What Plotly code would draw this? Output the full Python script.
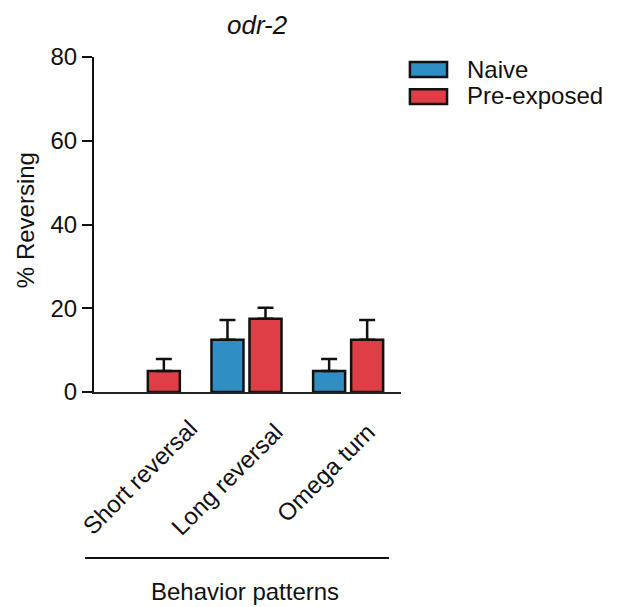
import plotly.graph_objects as go

categories = ["Short reversal", "Long reversal", "Omega turn"]
naive = [None, 12.5, 5]
naive_err = [0, 4.7, 2.9]
pre = [5, 17.5, 12.5]
pre_err = [2.9, 2.6, 4.7]
y_ticks = [0, 20, 40, 60, 80]

FONT = "Arial, Liberation Sans, sans-serif"
BLUE = "#2F8FC4"
RED = "#E03E46"
INK = "#111111"

fig = go.Figure()
for name, vals, errs, col in [("Naive", naive, naive_err, BLUE),
                              ("Pre-exposed", pre, pre_err, RED)]:
    fig.add_trace(go.Bar(
        x=list(range(len(categories))), y=vals, name=name,
        marker=dict(color=col, line=dict(color=INK, width=2.5)),
        error_y=dict(type="data", array=errs, arrayminus=[0]*len(errs),
                     symmetric=False, color=INK, thickness=2.5, width=8),
        showlegend=False,
    ))

fig.update_layout(
    width=622, height=607,
    margin=dict(l=94, r=221, t=57, b=215),
    paper_bgcolor="white", plot_bgcolor="white",
    barmode="group", bargap=0.252, bargroupgap=0.158,
    font=dict(family=FONT, size=24, color=INK),
    xaxis=dict(range=[-0.5, 2.52], showticklabels=False, ticks="",
               showgrid=False, zeroline=False, showline=True,
               linecolor="#222", linewidth=2),
    yaxis=dict(range=[0, 80], tickvals=y_ticks, ticks="outside", ticklen=10,
               tickwidth=2, tickcolor=INK, showgrid=False, zeroline=False,
               showline=True, linecolor=INK, linewidth=2,
               tickfont=dict(size=24, family=FONT, color=INK),
               ticklabelstandoff=0),
)

# title
fig.add_annotation(text="<i>odr-2</i>", xref="paper", yref="paper", x=0.531, y=1.0955,
                   xanchor="center", yanchor="middle", showarrow=False,
                   font=dict(size=26, family=FONT, color=INK))
# y-axis title
fig.add_annotation(text="% Reversing", xref="paper", yref="paper", x=-0.2248, y=0.513,
                   xanchor="center", yanchor="middle", textangle=-90, showarrow=False,
                   font=dict(size=24, family=FONT, color=INK))
# rotated category labels
label_xshift = [-5.5, -20, -22.5]
label_yshift = [-2, -4, 3]
for i, (cat, sx, sy) in enumerate(zip(categories, label_xshift, label_yshift)):
    fig.add_annotation(text=cat, xref="x", yref="paper", x=i, xshift=sx, yshift=sy,
                       y=-0.248, xanchor="center", yanchor="middle", textangle=-45,
                       showarrow=False, font=dict(size=24, family=FONT, color=INK))
# group bracket line and x title
fig.add_shape(type="line", xref="paper", yref="paper", x0=-0.029, x1=0.961,
              y0=-0.4955, y1=-0.4955, line=dict(color=INK, width=2))
fig.add_annotation(text="Behavior patterns", xref="paper", yref="paper", x=0.492, y=-0.597,
                   xanchor="center", yanchor="middle", showarrow=False,
                   font=dict(size=24, family=FONT, color=INK))
# legend
for (name, col, y0, y1, ty) in [("Naive", BLUE, 0.940, 0.985, 0.964),
                                ("Pre-exposed", RED, 0.860, 0.904, 0.884)]:
    fig.add_shape(type="rect", xref="paper", yref="paper", x0=1.029, x1=1.150,
                  y0=y0, y1=y1, fillcolor=col, line=dict(color=INK, width=2.5))
    fig.add_annotation(text=name, xref="paper", yref="paper", x=1.208, y=ty,
                       xanchor="left", yanchor="middle", showarrow=False,
                       font=dict(size=24, family=FONT, color=INK))

fig.write_html("out.html")
